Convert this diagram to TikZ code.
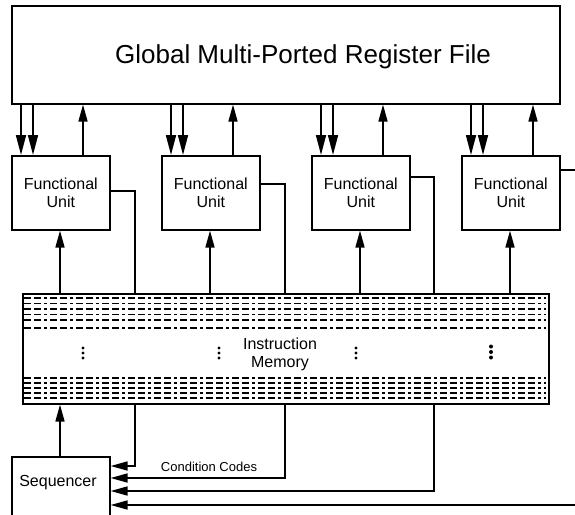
\documentclass[tikz,border=0pt]{standalone}
\usepackage{fontspec}
\setmainfont{Liberation Sans}
\usetikzlibrary{arrows.meta}
\begin{document}
\begin{tikzpicture}[x=1pt,y=-1pt,
  boxline/.style={draw,line width=1.6pt,inner sep=0pt,anchor=north west},
  fubox/.style={boxline,minimum width=98pt,minimum height=74pt,align=center,font=\fontsize{16}{18}\selectfont},
  conn/.style={line width=1.6pt},
  arr/.style={conn,-{Triangle[length=17pt,width=9pt]}},
  rarr/.style={conn,{Triangle[length=17pt,width=9pt]}-},
  darr/.style={conn,-{Triangle[length=20pt,width=10pt]}},
  memdash/.style={line width=1.2pt,dash pattern=on 7pt off 3pt on 7pt off 3pt on 3pt off 3pt},
  lbl/.style={inner sep=0pt,font=\fontsize{16}{18}\selectfont,align=center}]
\useasboundingbox (0,0) rectangle (575,514);
% register file
\node[boxline,minimum width=548pt,minimum height=98pt] (rf) at (11,5) {};
\node[inner sep=0pt,font=\fontsize{26}{30}\selectfont] (rft) at (303,57) {Global Multi-Ported Register File};
% functional units
\node[fubox] (fu1) at (11,155) {Functional\\Unit};
\node[fubox] (fu2) at (161,155) {Functional\\Unit};
\node[fubox] (fu3) at (311,155) {Functional\\Unit};
\node[fubox] (fu4) at (461,155) {Functional\\Unit};
% instruction memory
\node[boxline,minimum width=526pt,minimum height=110pt] (mem) at (22,293) {};
\foreach \y in {298,303.5,309,314.5,320,328,378,383,388,393,398}
  \draw[memdash] (24,\y) -- (546,\y);
\node[lbl] (memt) at (280,354) {Instruction\\Memory};
\foreach \x in {83,219,356}
  \foreach \dy in {-5,0,5}
    \fill (\x,353+\dy) circle (1.6pt);
\foreach \dy in {-5.5,0,5.5}
  \fill (491,352+\dy) circle (2pt);
% sequencer
\node[boxline,minimum width=98pt,minimum height=80pt] (seq) at (11,456) {};
\node[lbl] (seqt) at (58,483) {Sequencer};
\node[inner sep=0pt,font=\fontsize{13}{15}\selectfont] (cc) at (209,467) {Condition Codes};
% coordinates for feedback lines
\coordinate (o1) at (135,191);
\coordinate (o2) at (285,184);
\coordinate (o3) at (434,177);
\coordinate (o4) at (575,170);
\coordinate (r1) at (135,466);
\coordinate (r2) at (285,478);
\coordinate (r3) at (434,491);
\coordinate (r4) at (575,505);
% register file <-> functional units
\foreach \i in {1,2,3,4} {
  \draw[darr] ([xshift=10pt]fu\i.north west |- rf.south) -- ([xshift=10pt]fu\i.north west);
  \draw[darr] ([xshift=22pt]fu\i.north west |- rf.south) -- ([xshift=22pt]fu\i.north west);
  \draw[arr] ([xshift=72pt]fu\i.north west) -- ([xshift=72pt]fu\i.north west |- rf.south);
  \draw[rarr] ([xshift=49pt]fu\i.south west) -- ([xshift=49pt]fu\i.south west |- mem.north);
}
% functional unit outputs
\foreach \i in {1,2,3} {
  \draw[conn] (fu\i.east |- o\i) -| (o\i |- mem.north);
  \draw[arr] (o\i |- mem.south) -- (r\i) -- (seq.east |- r\i);
}
\draw[conn] (fu4.east |- o4) -- (o4);
\draw[arr] (r4) -- (seq.east |- r4);
% sequencer -> memory
\draw[rarr] ([xshift=49pt]seq.north west |- mem.south) -- ([xshift=49pt]seq.north west);
\end{tikzpicture}
\end{document}
